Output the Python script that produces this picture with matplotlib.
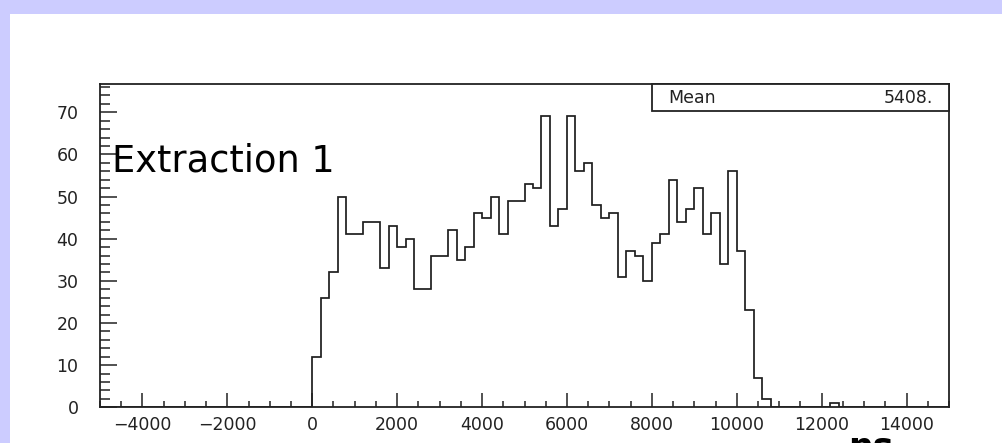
import numpy as np
import matplotlib
matplotlib.use("Agg")
import matplotlib.pyplot as plt
from matplotlib.patches import Rectangle
from matplotlib.ticker import MultipleLocator

# ---- data ----
bin_width = 200
x_range = (-5000, 15000)
main_start = 0
main_counts = [12, 26, 32, 50, 41, 41, 44, 44, 33, 43,
               38, 40, 28, 28, 36, 36, 42, 35, 38, 46,
               45, 50, 41, 49, 49, 53, 52, 69, 43, 47,
               69, 56, 58, 48, 45, 46, 31, 37, 36, 30,
               39, 41, 54, 44, 47, 52, 41, 46, 34, 56,
               37, 23, 7, 2]
tail_start = 12200
tail_count = 1
x_major = 2000
x_minor = 500
y_major = 10
y_minor = 2
y_max = 76.7
stat_label = "Mean"
stat_value = "5408."
title_text = "Extraction 1"
x_unit = "ns"

# ---- build histogram ----
edges = np.arange(x_range[0], x_range[1] + bin_width, bin_width)
counts = np.zeros(len(edges) - 1)
i0 = int((main_start - x_range[0]) // bin_width)
counts[i0:i0 + len(main_counts)] = main_counts
counts[int((tail_start - x_range[0]) // bin_width)] = tail_count

W, H = 1002, 443
fig = plt.figure(figsize=(W / 100, H / 100), dpi=100)
fig.patch.set_facecolor("#ccccff")
fig.patches.append(Rectangle((10 / W, 0), 1 - 10 / W, 1 - 14 / H,
                             transform=fig.transFigure, facecolor="white",
                             edgecolor="none", zorder=0))

ax = fig.add_axes([100 / W, 1 - 407.3 / H, (949 - 100) / W, (407.3 - 84) / H])
ax.set_zorder(2)
ax.set_facecolor("white")
ax.stairs(counts, edges, color="#1e1e1e", linewidth=1.25)
ax.set_xlim(*x_range)
ax.set_ylim(0, y_max)

for s in ax.spines.values():
    s.set_color("#222222")
    s.set_linewidth(1.3)

ax.xaxis.set_major_locator(MultipleLocator(x_major))
ax.xaxis.set_minor_locator(MultipleLocator(x_minor))
ax.yaxis.set_major_locator(MultipleLocator(y_major))
ax.yaxis.set_minor_locator(MultipleLocator(y_minor))
ax.set_xticks(np.arange(-4000, 14001, x_major))
ax.set_yticks(np.arange(0, 71, y_major))

ax.tick_params(axis="x", which="major", direction="in", length=10, width=1.1,
               labelsize=12.5, pad=6.0, colors="#222222")
ax.tick_params(axis="x", which="minor", direction="in", length=4.3, width=1.1,
               colors="#222222")
ax.tick_params(axis="y", which="major", direction="in", length=12, width=1.1,
               labelsize=12.5, pad=15.5, colors="#222222")
ax.tick_params(axis="y", which="minor", direction="in", length=7, width=1.1,
               colors="#222222")
ax.tick_params(top=False, right=False, which="both")

# stats box
bx0 = 651.7 / W
by0 = 1 - 110.7 / H
fig.patches.append(Rectangle((bx0, by0), 949 / W - bx0, (110.7 - 84) / H,
                             transform=fig.transFigure, facecolor="white",
                             edgecolor="#222222", linewidth=1.3, zorder=5))
fig.text(668 / W, 1 - 98 / H, stat_label, fontsize=12.5, va="center", ha="left",
         color="#222222", zorder=6)
fig.text(933 / W, 1 - 98 / H, stat_value, fontsize=12.5, va="center", ha="right",
         color="#222222", zorder=6)

fig.text(112 / W, 1 - 171.7 / H, title_text, fontsize=26.5, va="baseline",
         ha="left", color="black", zorder=6)
fig.text(848 / W, 1 - 457.5 / H, x_unit, fontsize=25, fontweight="bold",
         va="baseline", ha="left", color="black", zorder=6)

fig.savefig("out.png", dpi=100, facecolor=fig.get_facecolor())
